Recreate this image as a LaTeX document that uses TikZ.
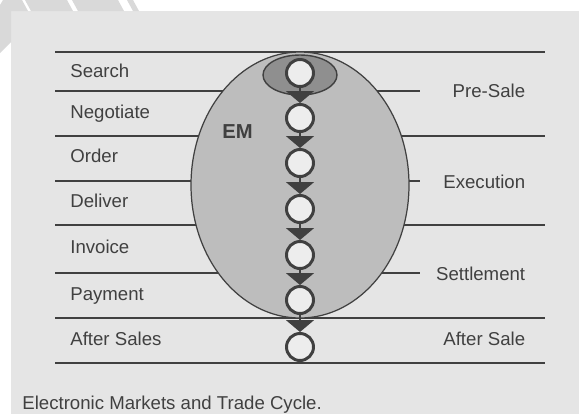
\documentclass[tikz,border=0pt]{standalone}
\usepackage{fontspec}
\setmainfont{Liberation Sans}
\usetikzlibrary{arrows.meta}
\definecolor{ink}{gray}{0.25}
\definecolor{panel}{gray}{0.9}
\definecolor{stripe}{gray}{0.85}
\definecolor{emfill}{gray}{0.74}
\definecolor{prefill}{gray}{0.56}
\definecolor{ringfill}{gray}{0.93}
\begin{document}
\begin{tikzpicture}[x=0.02cm,y=-0.02cm,
  rule/.style={ink,line width=1.1pt},
  lab/.style={ink,inner sep=0pt,font=\fontsize{10.6}{12}\selectfont},
  stage/.style={circle,draw=ink,fill=ringfill,line width=1.7pt,minimum size=0.54cm,inner sep=0pt},
  flow/.style={ink,line width=1.1pt,-{Triangle[width=0.56cm,length=0.24cm]}}]
%frame
\useasboundingbox(0,0)rectangle(579,414);
\fill[white](0,0)rectangle(579,414);
\fill[panel](11,11)rectangle(579,414);
%stripes
\fill[stripe](3,0)--(22,0)--(28,11)--(0,11)--(0,5)--cycle;
\fill[stripe](0,11)--(11,11)--(11,42)--(0,53)--cycle;
\fill[stripe](25,0)--(67,0)--(73,11)--(31,11)--cycle;
\fill[stripe](72,0)--(118,0)--(124,11)--(78,11)--cycle;
\fill[stripe](127,0)--(133,0)--(139,11)--(133,11)--cycle;
%rows
\draw[rule](55,52)--(545,52);
\draw[rule](55,91)--(420,91);
\draw[rule](55,136)--(545,136);
\draw[rule](55,181)--(420,181);
\draw[rule](55,225)--(545,225);
\draw[rule](55,273)--(420,273);
\draw[rule](55,318)--(545,318);
\draw[rule](55,363)--(545,363);
%market
\filldraw[fill=emfill,draw=ink,line width=0.7pt](300,185)ellipse[x radius=109,y radius=133];
\filldraw[fill=prefill,draw=ink,line width=0.8pt](300,75)ellipse[x radius=37,y radius=20];
\node[lab,anchor=base west,font=\bfseries\fontsize{11.5}{13}\selectfont](em)at(222,138){EM};
%steps
\node[lab,anchor=base west](search)at(70,77){Search};
\node[lab,anchor=base west](negotiate)at(70,118){Negotiate};
\node[lab,anchor=base west](order)at(70,162.5){Order};
\node[lab,anchor=base west](deliver)at(70,207){Deliver};
\node[lab,anchor=base west](invoice)at(70,253){Invoice};
\node[lab,anchor=base west](payment)at(70,300){Payment};
\node[lab,anchor=base west](aftersales)at(70,345){After Sales};
%phases
\node[lab,anchor=base east](presale)at(525.5,97){Pre-Sale};
\node[lab,anchor=base east](execution)at(525.5,188){Execution};
\node[lab,anchor=base east](settlement)at(525.5,280){Settlement};
\node[lab,anchor=base east](aftersale)at(525.5,345.5){After Sale};
%cycle
\node[stage](s1)at(300,73){};
\node[stage](s2)at(300,118){};
\node[stage](s3)at(300,163){};
\node[stage](s4)at(300,209){};
\node[stage](s5)at(300,255){};
\node[stage](s6)at(300,300){};
\node[stage](s7)at(300,347){};
\draw[flow](s1)--(s2);
\draw[flow](s2)--(s3);
\draw[flow](s3)--(s4);
\draw[flow](s4)--(s5);
\draw[flow](s5)--(s6);
\draw[flow](s6)--(s7);
%caption
\node[lab,anchor=base west](caption)at(22,409){Electronic Markets and Trade Cycle.};
\end{tikzpicture}
\end{document}
